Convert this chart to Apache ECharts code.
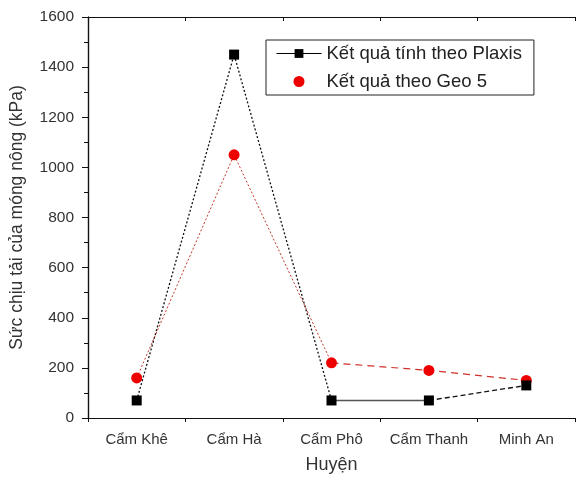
<!DOCTYPE html>
<html><head><meta charset="utf-8">
<script src="https://cdn.jsdelivr.net/npm/echarts@6/dist/echarts.min.js"></script>
<style>html,body{margin:0;padding:0;background:#fff}#c{width:578px;height:480px}</style>
</head><body><div id="c"></div>
<script>
const categories = ['Cẩm Khê', 'Cẩm Hà', 'Cẩm Phô', 'Cẩm Thanh', 'Minh An'];
const plaxis = [70, 1450, 70, 70, 130];
const geo5 = [160, 1050, 220, 190, 150];
const yTicks = [0, 200, 400, 600, 800, 1000, 1200, 1400, 1600];
const nameP = 'Kết quả tính theo Plaxis';
const nameG = 'Kết quả theo Geo 5';
const xTitle = 'Huyện';
const yTitle = 'Sức chịu tải của móng nông (kPa)';

const FONT = 'Liberation Sans, Arial, sans-serif';
const seg = (arr, a, b) => arr.map((v, i) => (i >= a && i <= b ? v : null));
const lineSeg = (arr, a, b, color, type, width) => ({
  type: 'line', data: seg(arr, a, b), symbol: 'none', silent: true,
  lineStyle: { color, type, width }, z: 2, animation: false
});

const chart = echarts.init(document.getElementById('c'), null, { renderer: 'canvas' });
const frameLine = { show: true, lineStyle: { color: '#111', width: 1.2 } };
chart.setOption({
  animation: false,
  textStyle: { fontFamily: FONT },
  grid: { left: 88, right: 3, top: 17, bottom: 62 },
  legend: {
    orient: 'vertical', left: 266, top: 40,
    borderColor: '#222', borderWidth: 1, padding: [4, 12, 4, 10],
    itemGap: 9, itemWidth: 45, itemHeight: 11,
    textStyle: { fontSize: 18.5, color: '#222', fontFamily: FONT },
    data: [
      { name: nameP, lineStyle: { color: '#000', width: 1, type: 'solid', opacity: 1 } },
      { name: nameG, icon: 'circle' }
    ]
  },
  xAxis: [
    { type: 'category', data: categories, boundaryGap: true, position: 'bottom',
      axisLine: frameLine, axisTick: { alignWithLabel: true, length: 6, lineStyle: { color: '#111' } },
      axisLabel: { fontSize: 15, color: '#333', margin: 14, fontFamily: FONT, interval: 0, hideOverlap: false },
      name: xTitle, nameLocation: 'middle', nameGap: 38,
      nameTextStyle: { fontSize: 18, color: '#333', fontFamily: FONT },
      splitLine: { show: false } },
    { type: 'value', min: 0, max: 5, interval: 1, position: 'bottom',
      axisLine: { show: false }, axisLabel: { show: false }, splitLine: { show: false },
      axisTick: { show: true, length: 4, lineStyle: { color: '#111' } } },
    { type: 'category', data: categories, boundaryGap: true, position: 'top',
      axisLine: frameLine, axisLabel: { show: false }, splitLine: { show: false },
      axisTick: { alignWithLabel: true, inside: true, length: 6, lineStyle: { color: '#111' } } },
    { type: 'value', min: 0, max: 5, interval: 1, position: 'top',
      axisLine: { show: false }, axisLabel: { show: false }, splitLine: { show: false },
      axisTick: { show: true, inside: true, length: 4, lineStyle: { color: '#111' } } }
  ],
  yAxis: [
    { type: 'value', min: yTicks[0], max: yTicks[yTicks.length - 1], interval: 200, position: 'left',
      axisLine: frameLine, axisTick: { show: true, length: 6, lineStyle: { color: '#111' } },
      minorTick: { show: true, splitNumber: 2, length: 4, lineStyle: { color: '#111' } },
      axisLabel: { fontSize: 15.5, color: '#333', margin: 14, fontFamily: FONT,
        formatter: v => String(v) },
      splitLine: { show: false },
      name: yTitle, nameLocation: 'middle', nameGap: 62, nameRotate: 90,
      nameTextStyle: { fontSize: 17.5, color: '#333', fontFamily: FONT } },
    { type: 'value', min: yTicks[0], max: yTicks[yTicks.length - 1], interval: 200, position: 'right',
      axisLine: frameLine, axisTick: { show: true, inside: true, length: 6, lineStyle: { color: '#111' } },
      minorTick: { show: true, splitNumber: 2, length: 4, lineStyle: { color: '#111' } },
      axisLabel: { show: false }, splitLine: { show: false } }
  ],
  series: [
    lineSeg(plaxis, 0, 2, '#111', [2, 2], 1.3),
    lineSeg(plaxis, 2, 3, '#555', 'solid', 1.5),
    lineSeg(plaxis, 3, 4, '#111', [5, 3], 1.3),
    lineSeg(geo5, 0, 2, '#c0392b', [2, 2], 1),
    lineSeg(geo5, 2, 4, '#d0302a', [7, 5], 1.2),
    { name: nameP, type: 'line', data: plaxis, symbol: 'rect', symbolSize: 10,
      itemStyle: { color: '#000' }, lineStyle: { opacity: 0, color: '#000' }, z: 4 },
    { name: nameG, type: 'line', data: geo5, symbol: 'circle', symbolSize: 11,
      itemStyle: { color: '#ee0000' }, lineStyle: { opacity: 0, color: '#ee0000' }, z: 3 }
  ]
});
</script></body></html>
